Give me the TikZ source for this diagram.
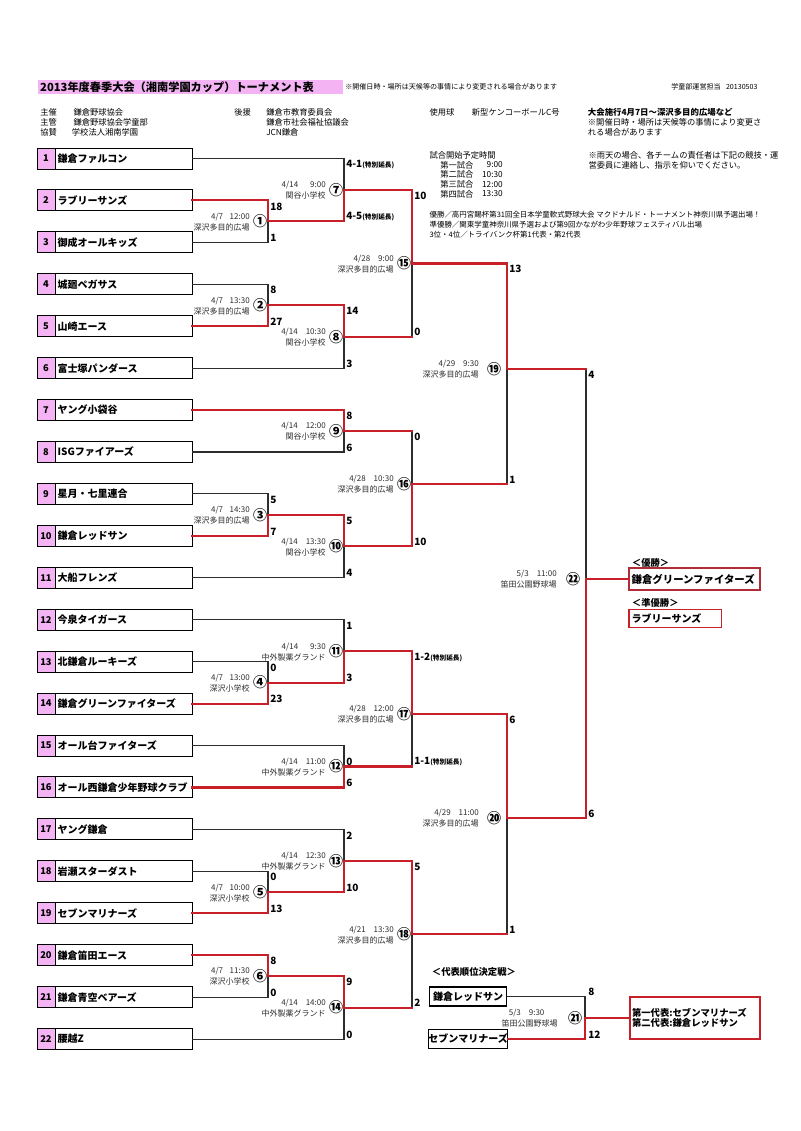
\documentclass[tikz,border=0pt]{standalone}
\usepackage{fontspec}
\setmainfont{Noto Sans CJK JP}
\usetikzlibrary{calc}
\definecolor{pk}{RGB}{244,180,244}
\definecolor{rd}{RGB}{200,32,40}
\definecolor{bk}{RGB}{45,45,45}
\definecolor{wr}{RGB}{176,44,54}
\newcommand{\fsz}[1]{\fontsize{#1}{#1}\selectfont}
\newcommand{\gmatch}[6]{%
  \node[circ] (c#1) at ($(#1)+(#2,0)$) {#4};
  \node[info] (l#1) at ($(c#1)+(#3,0.5)$) {#5\\#6};}
\newcommand{\scr}[4]{\node[score] (#1) at (#2,#3) {#4};}
\newcommand{\ext}{{\fsz{5}(特別延長)}}
\tikzset{
  bl/.style={draw=bk, line width=0.8pt},
  rl/.style={draw=rd, line width=1.6pt, line cap=rect},
  numbox/.style={draw=black, line width=0.7pt, fill=pk, minimum width=13.5pt, minimum height=15.75pt, inner sep=0pt, font=\bfseries\fsz{7}},
  namebox/.style={draw=black, line width=0.7pt, minimum height=15.75pt, text width=98.75pt, inner xsep=2pt, inner ysep=0pt, align=left, font=\bfseries\fsz{7.5}},
  pbox/.style={draw=black, line width=1.1pt, minimum width=57.75pt, minimum height=14.25pt, inner sep=0pt, font=\bfseries\fsz{7.5}},
  score/.style={anchor=west, inner sep=0pt, font=\bfseries\fsz{7.5}},
  circ/.style={inner sep=0pt, font=\bfseries\fsz{10.5}},
  info/.style={anchor=east, inner sep=0pt, align=right, text=bk, font=\fontsize{6}{8.25}\selectfont},
  hdr/.style={anchor=west, inner sep=0pt, font=\fsz{6.2}},
  note/.style={anchor=west, inner sep=0pt, font=\fsz{5.6}},
  lab/.style={anchor=west, inner sep=0pt, font=\bfseries\fsz{7}},
}
\begin{document}
\begin{tikzpicture}[x=0.75pt,y=-0.75pt]
\useasboundingbox (0,0) rectangle (800,1131);
\fill[white] (0,0) rectangle (800,1131);

% ---------- header ----------
\node[fill=pk, anchor=west, text width=225pt, inner xsep=2pt, inner ysep=0pt, minimum height=10.5pt, font=\bfseries\fsz{8.4}] (title) at (37.3,87) {2013年度春季大会（湘南学園カップ）トーナメント表};
\node[anchor=west, inner sep=0pt, font=\fsz{5.3}] (tnote) at (345,87) {※開催日時・場所は天候等の事情により変更される場合があります};
\node[anchor=west, inner sep=0pt, font=\fsz{5.3}] (tdate) at (671,87) {学童部運営担当\hspace{4pt}20130503};

\node[hdr] (h11) at (40,112) {主催};
\node[hdr] (h12) at (73.3,112) {鎌倉野球協会};
\node[hdr] (h13) at (234,112) {後援};
\node[hdr] (h14) at (266,112) {鎌倉市教育委員会};
\node[hdr] (h15) at (429.3,112) {使用球};
\node[hdr] (h16) at (471.7,112) {新型ケンコーボールC号};
\node[hdr, font=\bfseries\fsz{6.3}] (h17) at (587.7,112) {大会施行4月7日～深沢多目的広場など};
\node[hdr] (h21) at (40,122) {主管};
\node[hdr] (h22) at (73.3,122) {鎌倉野球協会学童部};
\node[hdr] (h24) at (266,122) {鎌倉市社会福祉協議会};
\node[hdr] (h27) at (587.7,122) {※開催日時・場所は天候等の事情により変更さ};
\node[hdr] (h31) at (40,132) {協賛};
\node[hdr] (h32) at (71.7,132) {学校法人湘南学園};
\node[hdr] (h34) at (266,132) {JCN鎌倉};
\node[hdr] (h37) at (587.7,132) {れる場合があります};

\node[hdr] (i0) at (429.3,155) {試合開始予定時間};
\node[hdr] (i1) at (440,165) {第一試合};
\node[hdr, anchor=east] (i1t) at (503,165) {9:00};
\node[hdr] (i2) at (440,174.7) {第二試合};
\node[hdr, anchor=east] (i2t) at (503,174.7) {10:30};
\node[hdr] (i3) at (440,184.4) {第三試合};
\node[hdr, anchor=east] (i3t) at (503,184.4) {12:00};
\node[hdr] (i4) at (440,194) {第四試合};
\node[hdr, anchor=east] (i4t) at (503,194) {13:30};
\node[hdr] (r1) at (588.3,155.5) {※雨天の場合、各チームの責任者は下記の競技・運};
\node[hdr] (r2) at (588.3,165) {営委員に連絡し、指示を仰いでください。};
\node[note] (q1) at (429.3,214.5) {優勝／高円宮賜杯第31回全日本学童軟式野球大会 マクドナルド・トーナメント神奈川県予選出場！};
\node[note] (q2) at (429.3,224.5) {準優勝／関東学童神奈川県予選および第9回かながわ少年野球フェスティバル出場};
\node[note] (q3) at (429.3,234.5) {3位・4位／トライバンク杯第1代表・第2代表};

% ---------- teams ----------
\foreach \i/\nm in {1/鎌倉ファルコン,2/ラブリーサンズ,3/御成オールキッズ,4/城廻ペガサス,5/山崎エース,6/富士塚パンダース,7/ヤング小袋谷,8/ISGファイアーズ,9/星月・七里連合,10/鎌倉レッドサン,11/大船フレンズ,12/今泉タイガース,13/北鎌倉ルーキーズ,14/鎌倉グリーンファイターズ,15/オール台ファイターズ,16/オール西鎌倉少年野球クラブ,17/ヤング鎌倉,18/岩瀬スターダスト,19/セブンマリナーズ,20/鎌倉笛田エース,21/鎌倉青空ベアーズ,22/腰越Z}{
  \pgfmathsetmacro\yy{158.5+41.93*(\i-1)}
  \node[numbox] (n\i) at (46,\yy) {\i};
  \node[namebox] (t\i) at (123.5,\yy) {\nm};
}

% ---------- match points ----------
\coordinate (m1) at (268,221.4);
\coordinate (m2) at (268,305.3);
\coordinate (m3) at (268,514.9);
\coordinate (m4) at (268,682.6);
\coordinate (m5) at (268,892.3);
\coordinate (m6) at (268,976.1);
\coordinate (m7) at (344,190);
\coordinate (m8) at (344,336.7);
\coordinate (m9) at (344,431);
\coordinate (m10) at (344,546.4);
\coordinate (m11) at (344,651.2);
\coordinate (m12) at (344,766.5);
\coordinate (m13) at (344,860.8);
\coordinate (m14) at (344,1007.6);
\coordinate (m15) at (412,263.5);
\coordinate (m16) at (412,484);
\coordinate (m17) at (412,714);
\coordinate (m18) at (412,934.2);
\coordinate (m19) at (507,369);
\coordinate (m20) at (507,818);
\coordinate (m22) at (586,579);
\coordinate (m21) at (585,1018);

% ---------- play-off and result boxes ----------
\node[lab] (plt) at (431.7,971.7) {＜代表順位決定戦＞};
\node[pbox] (p1) at (468,996.5) {鎌倉レッドサン};
\node[pbox] (p2) at (468,1039) {セブンマリナーズ};
\node[draw=rd, line width=0.8pt, minimum width=97.5pt, minimum height=31.5pt, text width=94.5pt, inner xsep=1.5pt, inner ysep=0pt, align=left, font=\bfseries\fontsize{7}{7.6}\selectfont] (r) at (695,1018) {第一代表:セブンマリナーズ\\第二代表:鎌倉レッドサン};
\node[lab] (wl) at (631.7,562.5) {＜優勝＞};
\node[draw=wr, line width=1.8pt, minimum width=98.25pt, minimum height=16.5pt, text width=94.25pt, inner xsep=2pt, inner ysep=0pt, align=left, font=\bfseries\fsz{7.8}] (w) at (694.5,579) {鎌倉グリーンファイターズ};
\node[lab] (rul) at (631.7,603.3) {＜準優勝＞};
\node[draw=rd, line width=1pt, minimum width=69.5pt, minimum height=13.5pt, text width=65.5pt, inner xsep=2pt, inner ysep=0pt, align=left, font=\bfseries\fsz{7.5}] (ru) at (675.4,618.3) {ラブリーサンズ};

% ---------- black connectors ----------
\foreach \a/\b in {t3/m1,t4/m2,t9/m3,t13/m4,t18/m5,t21/m6,t1/m7,t6/m8,t8/m9,t11/m10,t12/m11,t15/m12,t17/m13,t22/m14,p1/m21}
  \draw[bl] (\a.east) -- (\a.east -| \b) -- (\b);
\foreach \a/\b in {m8/m15,m9/m16,m12/m17,m14/m18,m16/m19,m18/m20,m19/m22}
  \draw[bl] (\a -| \b) -- (\b);

% ---------- red connectors ----------
\foreach \a/\b in {t2/m1,t5/m2,t10/m3,t14/m4,t19/m5,t20/m6,t7/m9,t16/m12,p2/m21}
  \draw[rl] (\a.east) -- (\a.east -| \b) -- (\b);
\foreach \a/\b in {m1/m7,m2/m8,m3/m10,m4/m11,m5/m13,m6/m14,m7/m15,m10/m16,m11/m17,m13/m18,m15/m19,m17/m20,m20/m22}
  \draw[rl] (\a) -- (\a -| \b) -- (\b);
\foreach \a/\b in {m8/m15,m9/m16,m12/m17,m14/m18,m16/m19,m18/m20,m19/m22}
  \draw[rl] (\a) -- (\a -| \b);
\draw[rl] (m22) -- (w.west);
\draw[rl] (m21) -- (r.west);

% ---------- match numbers, dates, venues ----------
\gmatch{m1}{-8}{-10}{①}{4/7\hspace{5pt}12:00}{深沢多目的広場}
\gmatch{m2}{-8}{-10}{②}{4/7\hspace{5pt}13:30}{深沢多目的広場}
\gmatch{m3}{-8}{-10}{③}{4/7\hspace{5pt}14:30}{深沢多目的広場}
\gmatch{m4}{-8}{-10}{④}{4/7\hspace{5pt}13:00}{深沢小学校}
\gmatch{m5}{-8}{-10}{⑤}{4/7\hspace{5pt}10:00}{深沢小学校}
\gmatch{m6}{-8}{-10}{⑥}{4/7\hspace{5pt}11:30}{深沢小学校}
\gmatch{m7}{-8}{-10}{⑦}{4/14\hspace{9pt}9:00}{関谷小学校}
\gmatch{m8}{-8}{-10}{⑧}{4/14\hspace{6pt}10:30}{関谷小学校}
\gmatch{m9}{-8}{-10}{⑨}{4/14\hspace{6pt}12:00}{関谷小学校}
\gmatch{m10}{-8}{-10}{⑩}{4/14\hspace{6pt}13:30}{関谷小学校}
\gmatch{m11}{-8}{-10}{⑪}{4/14\hspace{9pt}9:30}{中外製薬グランド}
\gmatch{m12}{-8}{-10}{⑫}{4/14\hspace{6pt}11:00}{中外製薬グランド}
\gmatch{m13}{-8}{-10}{⑬}{4/14\hspace{6pt}12:30}{中外製薬グランド}
\gmatch{m14}{-8}{-10}{⑭}{4/14\hspace{6pt}14:00}{中外製薬グランド}
\gmatch{m15}{-8}{-10}{⑮}{4/28\hspace{6pt}9:00}{深沢多目的広場}
\gmatch{m16}{-8}{-10}{⑯}{4/28\hspace{6pt}10:30}{深沢多目的広場}
\gmatch{m17}{-8}{-10}{⑰}{4/28\hspace{6pt}12:00}{深沢多目的広場}
\gmatch{m18}{-8}{-10}{⑱}{4/21\hspace{6pt}13:30}{深沢多目的広場}
\gmatch{m19}{-13}{-15}{⑲}{4/29\hspace{6pt}9:30}{深沢多目的広場}
\gmatch{m20}{-13}{-15}{⑳}{4/29\hspace{6pt}11:00}{深沢多目的広場}
\gmatch{m22}{-13}{-16}{㉒}{5/3\hspace{6pt}11:00}{笛田公園野球場}
\gmatch{m21}{-10}{-17}{㉑}{5/3\hspace{6pt}9:30\hbox to 10pt{}}{笛田公園野球場}

% ---------- scores ----------
\scr{s1a}{270}{206.4}{18}   \scr{s1b}{270}{237.9}{1}
\scr{s2a}{270}{290.3}{8}    \scr{s2b}{270}{321.7}{27}
\scr{s3a}{270}{500}{5}      \scr{s3b}{270}{531.4}{7}
\scr{s4a}{270}{667.7}{0}    \scr{s4b}{270}{699}{23}
\scr{s5a}{270}{877.3}{0}    \scr{s5b}{270}{908.7}{13}
\scr{s6a}{270}{961.2}{8}    \scr{s6b}{270}{992.6}{0}
\scr{s7a}{346}{164.5}{4-1\ext} \scr{s7b}{346}{217}{4-5\ext}
\scr{s8a}{346}{311.3}{14}   \scr{s8b}{346}{363.6}{3}
\scr{s9a}{346}{416}{8}      \scr{s9b}{346}{447.5}{6}
\scr{s10a}{346}{521}{5}     \scr{s10b}{346}{573.3}{4}
\scr{s11a}{346}{625.7}{1}   \scr{s11b}{346}{678}{3}
\scr{s12a}{346}{762}{0}     \scr{s12b}{346}{783}{6}
\scr{s13a}{346}{835.4}{2}   \scr{s13b}{346}{888}{10}
\scr{s14a}{346}{982}{9}     \scr{s14b}{346}{1034.5}{0}
\scr{s15a}{414}{196}{10}    \scr{s15b}{414}{332.2}{0}
\scr{s16a}{414}{437}{0}     \scr{s16b}{414}{542}{10}
\scr{s17a}{414}{657.2}{1-2\ext} \scr{s17b}{414}{762}{1-1\ext}
\scr{s18a}{414}{866.8}{5}   \scr{s18b}{414}{1003}{2}
\scr{s19a}{509}{269.3}{13}  \scr{s19b}{509}{479.5}{1}
\scr{s20a}{509}{720}{6}     \scr{s20b}{509}{929.7}{1}
\scr{s22a}{588}{375}{4}     \scr{s22b}{588}{813.5}{6}
\scr{s21a}{588}{991.5}{8}   \scr{s21b}{588}{1034.5}{12}
\end{tikzpicture}
\end{document}
